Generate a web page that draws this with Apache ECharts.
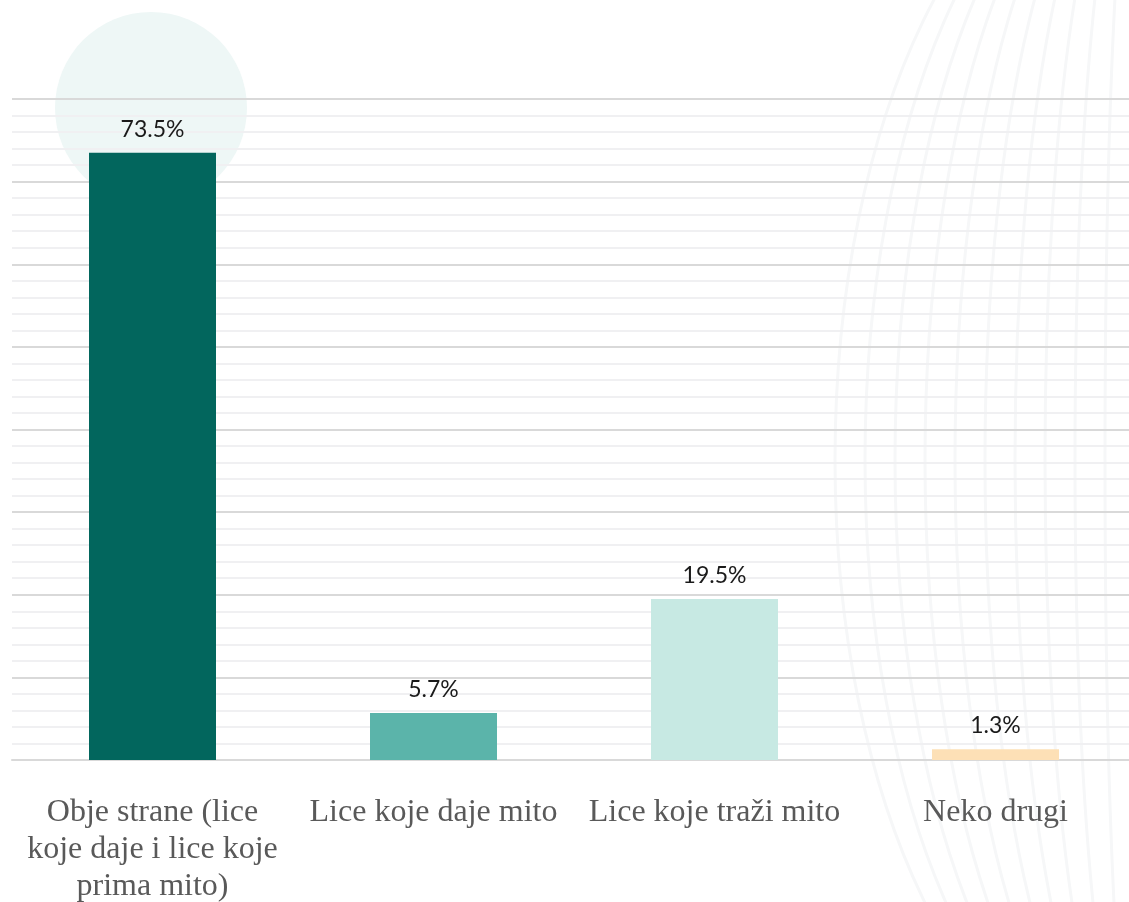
<!DOCTYPE html>
<html>
<head>
<meta charset="utf-8">
<script src="https://cdn.jsdelivr.net/npm/echarts@6/dist/echarts.min.js"></script>
<style>
  html, body { margin: 0; padding: 0; background: #ffffff; }
  #chart { width: 1129px; height: 902px; }
</style>
</head>
<body>
<div id="chart"></div>
<script>
// kategorije i vrijednosti (u %)
const categories = [
  'Obje strane (lice\nkoje daje i lice koje\nprima mito)',
  'Lice koje daje mito',
  'Lice koje traži mito',
  'Neko drugi'
]
const values = [73.5, 5.7, 19.5, 1.3]
const barColors = ['#02665d', '#5bb4aa', '#c7e9e3', '#fde0b6']

const chart = echarts.init(document.getElementById('chart'))

// dekorativne elipse desno (pozadina)
const globeRadii = [30, 60, 90, 120, 150, 180, 210, 240, 270, 300]
const globe = globeRadii.map(rx => ({
  type: 'ellipse',
  z: -10,
  silent: true,
  shape: { cx: 1135, cy: 460, rx: rx, ry: 620 },
  style: { fill: 'none', stroke: '#f6f7f8', lineWidth: 3 }
}))

const option = {
  animation: false,
  backgroundColor: '#ffffff',
  graphic: [
    {
      type: 'circle',
      z: -10,
      silent: true,
      shape: { cx: 151, cy: 108, r: 96 },
      style: { fill: '#eef7f6' }
    },
    ...globe
  ],
  grid: {
    left: 12,
    top: 99,
    width: 1124,
    bottom: 142,
    outerBoundsMode: 'none'
  },
  xAxis: {
    type: 'category',
    data: categories,
    axisLine: { lineStyle: { color: '#d9d9d9', width: 2 } },
    axisTick: { show: false },
    axisLabel: {
      interval: 0,
      margin: 34,
      color: '#595959',
      fontFamily: 'Liberation Serif',
      fontSize: 32,
      lineHeight: 37,
      align: 'center'
    }
  },
  yAxis: {
    type: 'value',
    min: 0,
    max: 80,
    interval: 10,
    axisLabel: { show: false },
    axisLine: { show: false },
    axisTick: { show: false },
    splitLine: { lineStyle: { color: '#d9d9d9', width: 2 } },
    minorTick: { show: false, splitNumber: 5 },
    minorSplitLine: { show: true, lineStyle: { color: '#f0f0f2', width: 2 } }
  },
  series: [
    {
      type: 'bar',
      barWidth: 127,
      data: values.map((v, i) => ({ value: v, itemStyle: { color: barColors[i] } })),
      label: {
        show: true,
        position: 'top',
        distance: 12,
        formatter: p => p.value.toFixed(1) + '%',
        color: '#1a1a1a',
        fontFamily: 'Lato',
        fontSize: 23
      }
    }
  ]
}

chart.setOption(option)
</script>
</body>
</html>
